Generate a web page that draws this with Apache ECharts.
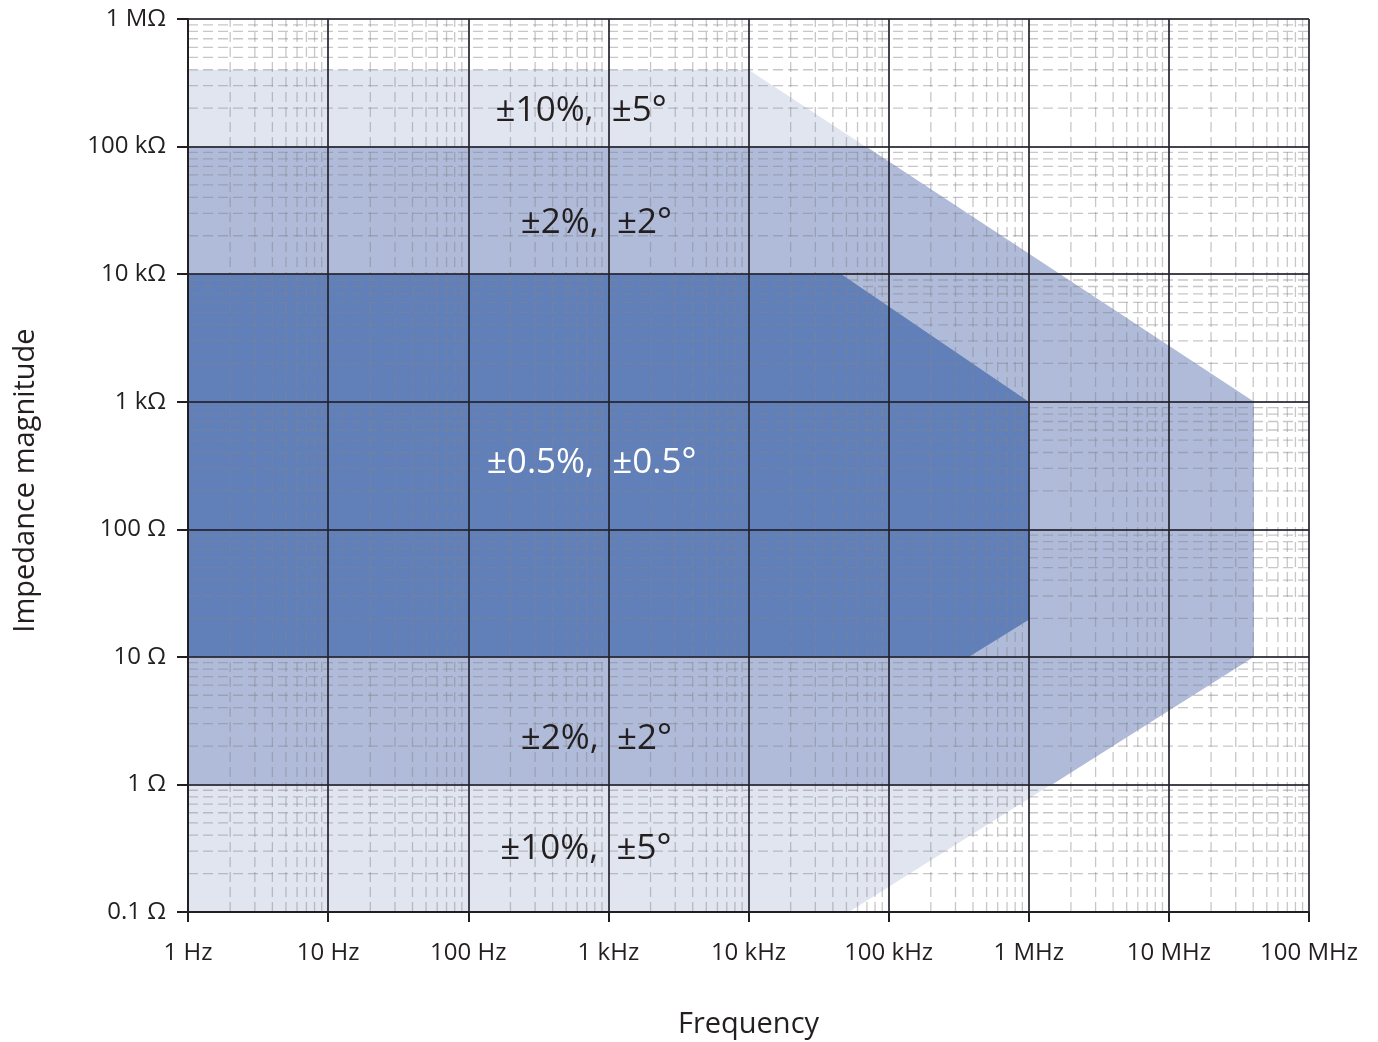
<!DOCTYPE html>
<html>
<head>
<meta charset="utf-8">
<script src="https://cdn.jsdelivr.net/npm/echarts@6/dist/echarts.min.js"></script>
<style>
  html, body { margin:0; padding:0; background:#fff; }
  #chart { width:1378px; height:1042px; }
</style>
</head>
<body>
<div id="chart"></div>
<script>
// tick labels, one per decade
var freqLabels = ['1 Hz', '10 Hz', '100 Hz', '1 kHz', '10 kHz', '100 kHz', '1 MHz', '10 MHz', '100 MHz'];
var impLabels = ['0.1 Ω', '1 Ω', '10 Ω', '100 Ω', '1 kΩ', '10 kΩ', '100 kΩ', '1 MΩ'];

// accuracy zones, vertices as [frequency Hz, impedance Ω]
var zone10 = [[1, 4e5], [1e4, 4e5], [4.05e7, 1e3], [4.05e7, 10], [5.2e4, 0.1], [1, 0.1]];
var zone2 = [[1, 1e5], [6.9e4, 1e5], [4.05e7, 1e3], [4.05e7, 10], [1.47e6, 1], [1, 1]];
var zone05 = [[1, 1e4], [4.6e4, 1e4], [1e6, 1e3], [1e6, 19.5], [3.75e5, 10], [1, 10]];

// zone captions and where they sit
var captions = ['±10%,  ±5°', '±2%,  ±2°', '±0.5%,  ±0.5°', '±2%,  ±2°', '±10%,  ±5°'];
var captionAt = [[640, 1.9e5], [820, 2.52e4], [760, 330], [820, 2.27], [690, 0.31]];
var captionColor = ['#231f20', '#231f20', '#ffffff', '#231f20', '#231f20'];

var xMin = 1, xMax = 1e8, yMin = 0.1, yMax = 1e6;

function zoneSeries(points, color, z) {
    return {
        type: 'custom',
        coordinateSystem: 'cartesian2d',
        silent: true,
        z: z,
        data: points,
        renderItem: function (params, api) {
            if (params.dataIndex !== 0) return;
            return {
                type: 'polygon',
                shape: { points: points.map(function (p) { return api.coord(p); }) },
                style: { fill: color }
            };
        }
    };
}

var myChart = echarts.init(document.getElementById('chart'));
var option = {
    animation: false,
    backgroundColor: '#ffffff',
    grid: { left: 188, right: 69, top: 19, bottom: 130, outerBoundsMode: 'none' },
    xAxis: {
        type: 'log',
        logBase: 10,
        min: xMin,
        max: xMax,
        interval: 1,
        z: 10,
        name: 'Frequency',
        nameLocation: 'middle',
        nameGap: 98,
        nameTextStyle: { fontFamily: 'Open Sans', fontSize: 29, color: '#231f20' },
        axisLine: { lineStyle: { color: '#231f20', width: 2 } },
        axisTick: { length: 10, lineStyle: { color: '#231f20', width: 2 } },
        axisLabel: {
            margin: 29,
            fontFamily: 'Open Sans',
            fontSize: 24,
            color: '#231f20',
            formatter: function (v) { return freqLabels[Math.round(Math.log10(v))]; }
        },
        splitLine: { show: true, lineStyle: { color: 'rgba(35,35,45,0.85)', width: 2 } }
    },
    yAxis: {
        type: 'log',
        logBase: 10,
        min: yMin,
        max: yMax,
        interval: 1,
        z: 10,
        name: 'Impedance magnitude',
        nameLocation: 'middle',
        nameGap: 148,
        nameTextStyle: { fontFamily: 'Open Sans', fontSize: 29, color: '#231f20', padding: [0, 30, 0, 0] },
        axisLine: { lineStyle: { color: '#231f20', width: 2 } },
        axisTick: { length: 11, lineStyle: { color: '#231f20', width: 2 } },
        axisLabel: {
            margin: 22,
            fontFamily: 'Open Sans',
            fontSize: 24,
            color: '#231f20',
            formatter: function (v) { return impLabels[Math.round(Math.log10(v)) + 1]; }
        },
        splitLine: { show: true, lineStyle: { color: 'rgba(35,35,45,0.85)', width: 2 } }
    },
    series: [
        zoneSeries(zone10, '#e0e5f0', 2),
        zoneSeries(zone2, '#b0bbda', 3),
        zoneSeries(zone05, '#6180ba', 4),
        {
            // dashed minor grid (2..9 in every decade)
            type: 'custom',
            coordinateSystem: 'cartesian2d',
            silent: true,
            z: 5,
            data: [[xMin, yMin]],
            renderItem: function (params, api) {
                var kids = [];
                var st = { stroke: 'rgba(130,130,135,0.45)', lineWidth: 1.3, lineDash: [10, 5] };
                var d, m, a, b;
                for (d = xMin; d < xMax; d *= 10) {
                    for (m = 2; m <= 9; m++) {
                        a = api.coord([d * m, yMin]); b = api.coord([d * m, yMax]);
                        kids.push({ type: 'line', shape: { x1: a[0], y1: a[1], x2: b[0], y2: b[1] }, style: st });
                    }
                }
                for (d = yMin; d < yMax * 0.99; d *= 10) {
                    for (m = 2; m <= 9; m++) {
                        a = api.coord([xMin, d * m]); b = api.coord([xMax, d * m]);
                        kids.push({ type: 'line', shape: { x1: a[0], y1: a[1], x2: b[0], y2: b[1] }, style: st });
                    }
                }
                return { type: 'group', children: kids };
            }
        },
        {
            type: 'custom',
            coordinateSystem: 'cartesian2d',
            silent: true,
            z: 20,
            data: captionAt,
            renderItem: function (params, api) {
                var p = api.coord([api.value(0), api.value(1)]);
                return {
                    type: 'text',
                    x: p[0],
                    y: p[1],
                    style: {
                        text: captions[params.dataIndex],
                        fill: captionColor[params.dataIndex],
                        font: '35px "Open Sans"',
                        align: 'center',
                        verticalAlign: 'middle'
                    }
                };
            }
        }
    ]
};
myChart.setOption(option);
</script>
</body>
</html>
